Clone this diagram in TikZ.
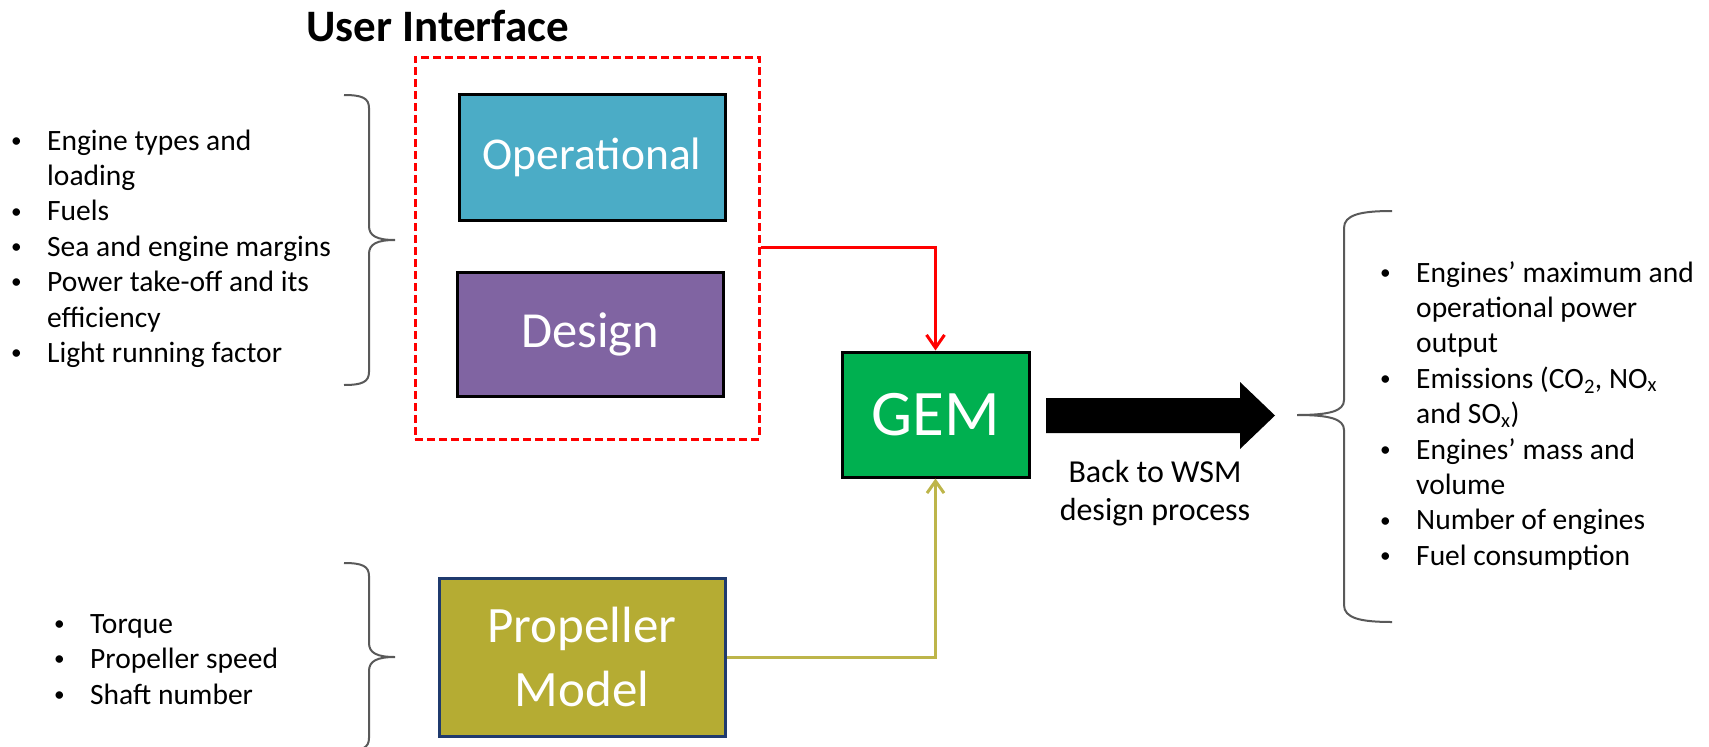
\documentclass[tikz,border=0pt]{standalone}
\usepackage{fontspec}
\setmainfont{Carlito}
\usetikzlibrary{arrows.meta}
\definecolor{opcol}{HTML}{4BACC6}
\definecolor{descol}{HTML}{8064A2}
\definecolor{gemcol}{HTML}{00B050}
\definecolor{propcol}{HTML}{B5AC33}
\definecolor{propborder}{HTML}{1F3A6E}
\definecolor{oliveline}{HTML}{BDB54A}
\definecolor{bracecol}{HTML}{595959}
\definecolor{redline}{HTML}{FF0000}
\tikzset{
  box/.style={draw=black, line width=3pt, text=white, inner sep=0pt, align=center},
  bracel/.style={draw=bracecol, line width=2pt},
  listnode/.style={inner sep=0pt, anchor=base west},
  redarrow/.style={draw=redline, line width=3pt, -{Straight Barb[length=13pt,width=18pt]}},
  olivearrow/.style={draw=oliveline, line width=3pt, -{Straight Barb[length=12pt,width=17pt]}},
}
\newcommand{\bul}{\makebox[36pt][l]{\raisebox{0.09em}{\scalebox{0.72}{•}}}}
\begin{document}
\begin{tikzpicture}[x=1pt,y=-1pt]
\useasboundingbox (0,0) rectangle (1709,747);

% title
\node[inner sep=0pt, anchor=base west, font=\fontsize{45}{54}\selectfont\bfseries] (title) at (306,41)
  {User Interface};

% dashed user interface box
\node[draw=redline, line width=3pt, dash pattern=on 8pt off 4pt,
      minimum width=344pt, minimum height=382pt, inner sep=0pt] (ui) at (587,248) {};

% boxes
\node[box, fill=opcol, minimum width=266pt, minimum height=126pt,
      font=\fontsize{45.5}{54}\selectfont] (op) at (592,157) {Operational};
\node[box, fill=descol, minimum width=266pt, minimum height=124pt,
      font=\fontsize{50.5}{60}\selectfont] (des) at (590,334) {Design};
\node[box, fill=gemcol, minimum width=187pt, minimum height=125pt,
      font=\fontsize{65}{78}\selectfont] (gem) at (935.5,414.5) {GEM};
\node[box, draw=propborder, fill=propcol, minimum width=286pt, minimum height=158pt,
      font=\fontsize{51}{64}\selectfont] (prop) at (582,657) {Propeller\\Model};

% connectors
\draw[redarrow] (ui.east |- 0,247) -| (gem.north);
\draw[olivearrow] (prop.east) -| (gem.south);

% big black arrow
\fill[black] (1046,398) -- (1240,398) -- (1240,382) -- (1275,415.5) -- (1240,449) -- (1240,433) -- (1046,433) -- cycle;
\node[inner sep=0pt, anchor=base] (back) at (1155,482)
  {\fontsize{32}{38}\selectfont\begin{tabular}[t]{@{}c@{}}Back to WSM\\design process\end{tabular}};

% left list
\node[listnode] (leftlist) at (11,150)
  {\fontsize{29.5}{35.4}\selectfont\begin{tabular}[t]{@{}l@{}}
  \bul Engine types and\\
  \hspace{36pt}loading\\
  \bul Fuels\\
  \bul Sea and engine margins\\
  \bul Power take-off and its\\
  \hspace{36pt}efficiency\\
  \bul Light running factor
  \end{tabular}};

% bottom left list
\node[listnode] (proplist) at (54,633)
  {\fontsize{29.5}{35.5}\selectfont\begin{tabular}[t]{@{}l@{}}
  \bul Torque\\
  \bul Propeller speed\\
  \bul Shaft number
  \end{tabular}};

% right list
\node[listnode] (outlist) at (1380,282)
  {\fontsize{29.5}{35.4}\selectfont\begin{tabular}[t]{@{}l@{}}
  \bul Engines’ maximum and\\
  \hspace{36pt}operational power\\
  \hspace{36pt}output\\
  \bul Emissions (CO\textsubscript{2}, NO\textsubscript{x}\\
  \hspace{36pt}and SO\textsubscript{x})\\
  \bul Engines’ mass and\\
  \hspace{36pt}volume\\
  \bul Number of engines\\
  \bul Fuel consumption
  \end{tabular}};

% braces
\draw[bracel] (344,95) .. controls (362,95) and (369,98) .. (369,108) -- (369,226)
  .. controls (369,236) and (377,240) .. (395,240)
  .. controls (377,240) and (369,244) .. (369,254) -- (369,372)
  .. controls (369,382) and (362,385) .. (344,385);
\draw[bracel] (344,563) .. controls (362,563) and (369,566) .. (369,576) -- (369,643)
  .. controls (369,653) and (377,657) .. (395,657)
  .. controls (377,657) and (369,661) .. (369,671) -- (369,738)
  .. controls (369,748) and (362,751) .. (344,751);
\draw[bracel] (1392,211) .. controls (1360,211) and (1344,215) .. (1344,228) -- (1344,400)
  .. controls (1344,411) and (1330,415) .. (1297,415)
  .. controls (1330,415) and (1344,419) .. (1344,430) -- (1344,605)
  .. controls (1344,618) and (1360,622) .. (1392,622);
\end{tikzpicture}
\end{document}
